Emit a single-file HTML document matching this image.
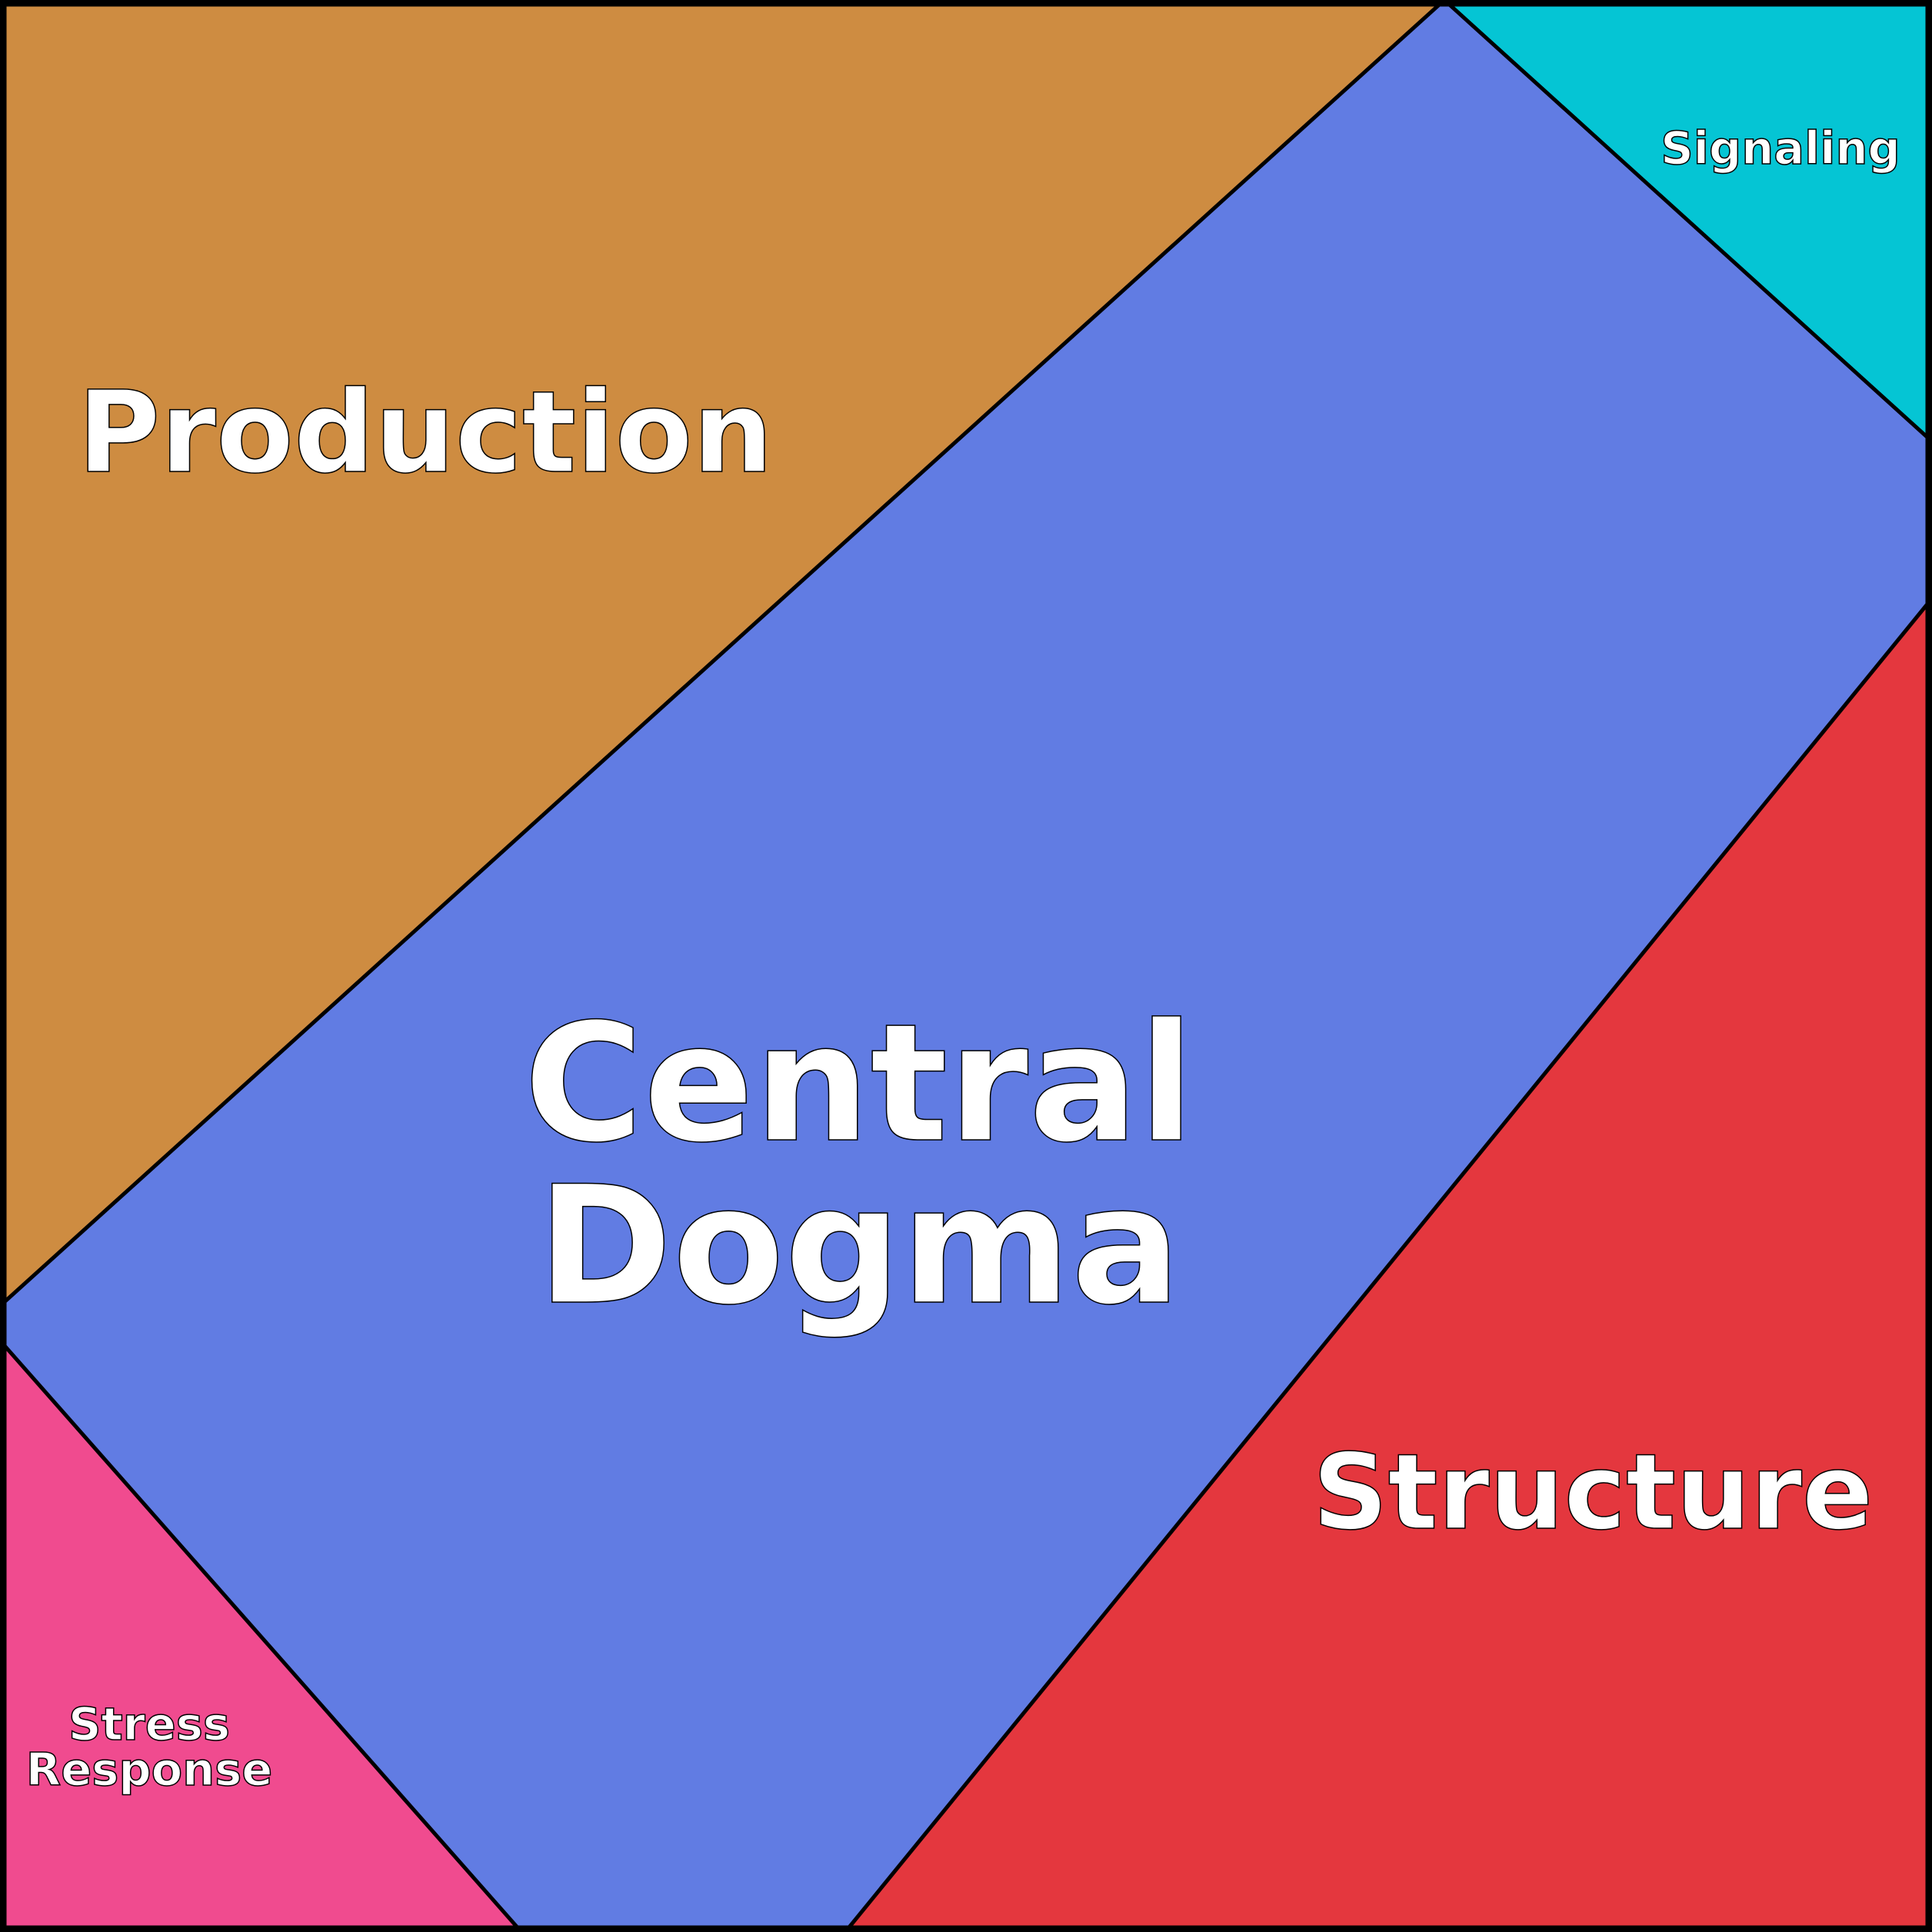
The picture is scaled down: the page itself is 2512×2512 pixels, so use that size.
<!DOCTYPE html>
<html><head><meta charset="utf-8"><style>html,body{margin:0;padding:0;background:#fff}svg{display:block}</style></head>
<body>
<svg width="2512" height="2512" viewBox="0 0 2512 2512" xmlns="http://www.w3.org/2000/svg">
<rect x="0" y="0" width="2512" height="2512" fill="#617CE3"/>
<g stroke="#000" stroke-width="5" stroke-linejoin="round">
<polygon points="0,0 1878,0 0,1698" fill="#CE8C41"/>
<polygon points="1878,0 2512,0 2512,574" fill="#05C5D4"/>
<polygon points="2512,778 2512,2512 1099,2512" fill="#E4373E"/>
<polygon points="0,1743 678,2512 0,2512" fill="#F04B8F"/>
</g>
<rect x="4" y="4" width="2504" height="2504" fill="none" stroke="#000" stroke-width="9"/>
<g font-family="'DejaVu Sans','Liberation Sans',sans-serif" font-weight="bold" fill="#fff" stroke="#000" stroke-width="1.5" text-anchor="middle">
<text x="553" y="613" font-size="147">Production</text>
<text x="1117" y="1482" font-size="212">Central</text>
<text x="1117" y="1693" font-size="212">Dogma</text>
<text x="2071" y="1987" font-size="136">Structure</text>
<text x="2315" y="213" font-size="59">Signaling</text>
<text x="194" y="2262" font-size="59">Stress</text>
<text x="194" y="2321" font-size="59">Response</text>
</g>
</svg>
</body></html>
